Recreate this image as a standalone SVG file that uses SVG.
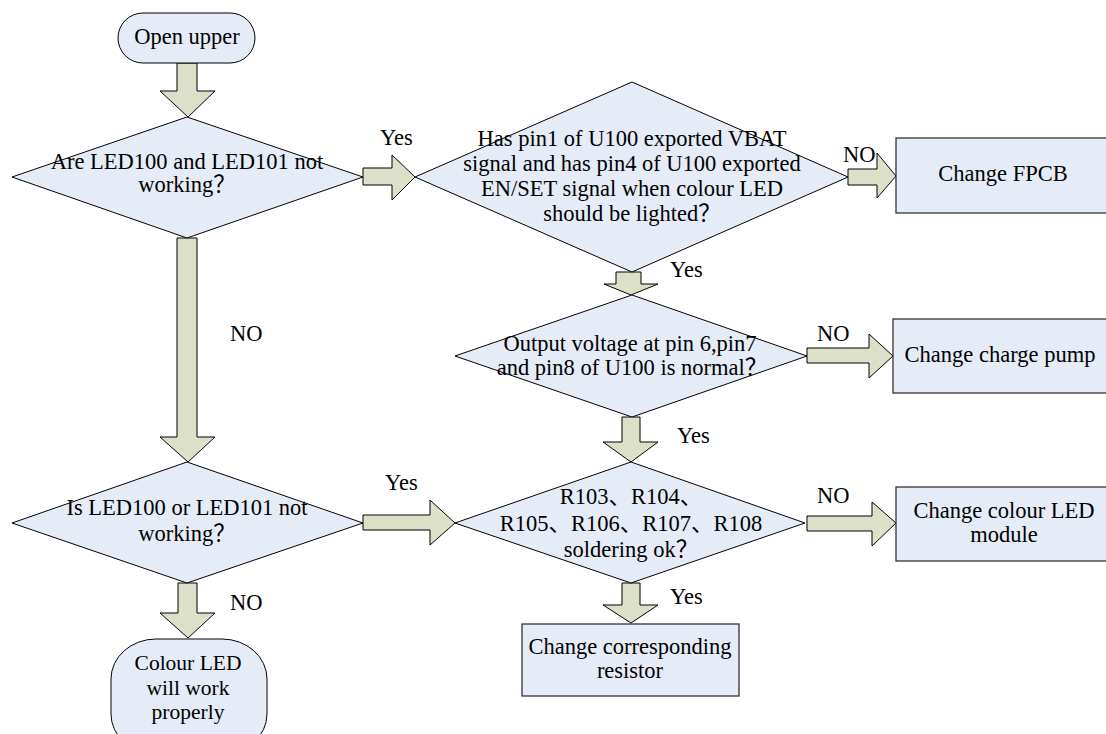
<svg xmlns="http://www.w3.org/2000/svg" width="1106" height="734" viewBox="0 0 1106 734">
<style>
.n{fill:#e6ecf7;stroke:#000;stroke-width:1}
.b{fill:#e6ecf7;stroke:#333;stroke-width:1.3}
.a{fill:#dde0c9;stroke:#000;stroke-width:1}
.t{font-family:"Liberation Serif","Noto Sans CJK SC",serif;font-size:22.5px;fill:#000;text-anchor:middle}
.s{font-family:"Liberation Serif","Noto Sans CJK SC",serif;font-size:21.5px;fill:#000;text-anchor:middle}
.l{font-family:"Liberation Serif","Noto Sans CJK SC",serif;font-size:22.5px;fill:#000}
</style>
<rect width="1106" height="734" fill="#fff"/>
<g id="connectors">
<polygon class="a" points="177,63 197,63 197,91 215,91 188,117 160,91 177,91"/>
<polygon class="a" points="363,168 392,168 392,155 415,177 392,200 392,185 363,185"/>
<polygon class="a" points="177,238 197,238 197,437 215,437 188,462 160,437 177,437"/>
<polygon class="a" points="848,169 877,169 877,153 896,176 877,198 877,185 848,185"/>
<polygon class="a" points="616,272 641,272 641,284 658,284 631,295 604,284 616,284"/>
<polygon class="a" points="807,348 869,348 869,334 893,356 869,378 869,363 807,363"/>
<polygon class="a" points="622,417 640,417 640,442 658,442 631,462 603,442 622,442"/>
<polygon class="a" points="363,515 430,515 430,500 455,523 430,545 430,530 363,530"/>
<polygon class="a" points="807,516 872,516 872,502 896,523 872,546 872,531 807,531"/>
<polygon class="a" points="622,583 640,583 640,605 658,605 631,623 603,605 622,605"/>
<polygon class="a" points="178,583 197,583 197,613 215,613 188,638 160,613 178,613"/>
<text class="l" x="380" y="145">Yes</text>
<text class="l" x="230" y="341">NO</text>
<text class="l" x="843" y="162">NO</text>
<text class="l" x="670" y="277">Yes</text>
<text class="l" x="817" y="341">NO</text>
<text class="l" x="677" y="443">Yes</text>
<text class="l" x="385" y="490">Yes</text>
<text class="l" x="817" y="503">NO</text>
<text class="l" x="670" y="604">Yes</text>
<text class="l" x="230" y="610">NO</text>
</g>
<g id="start">
<rect class="n" x="118" y="13" width="137" height="50" rx="25" ry="25"/>
<text class="t" x="187" y="44">Open upper</text>
</g>
<g id="decision1">
<polygon class="n" points="187,117 363,177 187,238 12,177"/>
<text class="t" x="187" y="169">Are LED100 and LED101 not</text>
<text class="t" x="187" y="192">working？</text>
</g>
<g id="decision2">
<polygon class="n" points="632,82 848,177 632,272 415,177"/>
<text class="t" x="632" y="146">Has pin1 of U100 exported VBAT</text>
<text class="t" x="632" y="171">signal and has pin4 of U100 exported</text>
<text class="t" x="632" y="196">EN/SET signal when colour LED</text>
<text class="t" x="632" y="221">should be lighted？</text>
</g>
<g id="fpcb">
<rect class="b" x="896" y="138" width="214" height="75"/>
<text class="t" x="1003" y="181">Change FPCB</text>
</g>
<g id="decision3">
<polygon class="n" points="632,295 807,356 632,417 455,356"/>
<text class="t" x="630" y="351">Output voltage at pin 6,pin7</text>
<text class="t" x="632" y="375">and pin8 of U100 is normal？</text>
</g>
<g id="pump">
<rect class="b" x="893" y="319" width="217" height="74"/>
<text class="t" x="1000" y="362">Change charge pump</text>
</g>
<g id="decision4">
<polygon class="n" points="631,462 805,523 631,583 455,523"/>
<text class="t" x="631" y="504">R103、R104、</text>
<text class="t" x="631" y="531">R105、R106、R107、R108</text>
<text class="t" x="631" y="557">soldering ok？</text>
</g>
<g id="ledmodule">
<rect class="b" x="896" y="487" width="214" height="74"/>
<text class="t" x="1004" y="518">Change colour LED</text>
<text class="t" x="1004" y="542">module</text>
</g>
<g id="decision5">
<polygon class="n" points="187,462 363,523 187,583 12,523"/>
<text class="t" x="187" y="515">Is LED100 or LED101 not</text>
<text class="t" x="187" y="541">working？</text>
</g>
<g id="resistor">
<rect class="b" x="522" y="624" width="217" height="72"/>
<text class="t" x="630" y="654">Change corresponding</text>
<text class="t" x="630" y="678">resistor</text>
</g>
<g id="end">
<rect class="n" x="111" y="639" width="156" height="115" rx="45" ry="40"/>
<text class="s" x="188" y="670">Colour LED</text>
<text class="s" x="188" y="695">will work</text>
<text class="s" x="188" y="719">properly</text>
</g>
</svg>
